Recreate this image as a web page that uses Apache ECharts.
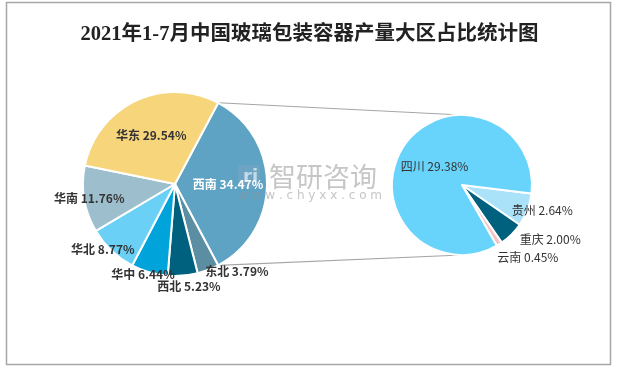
<!DOCTYPE html>
<html>
<head>
<meta charset="utf-8">
<script src="https://cdn.jsdelivr.net/npm/echarts@6/dist/echarts.min.js"></script>
<style>
html,body{margin:0;padding:0;background:#fff;}
#chart{width:619px;height:368px;}
</style>
</head>
<body>
<div id="chart"></div>
<script>
// ---- data ----
const titleText = '2021年1-7月中国玻璃包装容器产量大区占比统计图';
const regionNames = ['西南', '东北', '西北', '华中', '华北', '华南', '华东'];
const regionValues = [34.47, 3.79, 5.23, 6.44, 8.77, 11.76, 29.54];
const provinceNames = ['贵州', '重庆', '云南', '四川'];
const provinceValues = [2.64, 2.00, 0.45, 29.38];

// ---- styles ----
const regionColors = ['#5ea3c3', '#5b8ea2', '#00617f', '#00a3da', '#6ad0f5', '#9dbfcd', '#f7d57b'];
const provinceColors = ['#aae3f9', '#00617f', '#f2c4c2', '#68d4fc'];
const leftCenter = [175, 184], leftR = 92, leftStart = 62;
const rightCenter = [462, 185], rightR = 70, rightStart = -7;
// label radius / offset / colour per slice (style only)
const regionLabelR = [50, 105, 103, 94, 96, 85, 53];
const regionLabelOff = [[0, 0], [23, -13], [5, -3], [-5, -3], [-4, -6], [1, 0], [0, 2]];
const regionLabelColor = ['#ffffff', '#333', '#333', '#333', '#333', '#333', '#333'];
const provinceLabelR = [70, 85, 85, 30];
const provinceLabelOff = [[12, 0], [26, -8], [19, -2], [0, 0]];

const chart = echarts.init(document.getElementById('chart'));
const fontCJK = "'Noto Sans CJK SC', 'Microsoft YaHei', sans-serif";

function labelSeries(names, values, idx, center, r, start, off, color, weight) {
  return {
    type: 'pie', silent: true, animation: false, center: center, radius: [0, r * 2],
    startAngle: start, clockwise: true, avoidLabelOverlap: false, z: 5,
    itemStyle: { color: 'rgba(0,0,0,0)', borderWidth: 0 },
    emphasis: { disabled: true },
    labelLine: { show: false },
    label: {
      show: true, position: 'inside', offset: off, color: color,
      fontSize: 12, fontWeight: weight, fontFamily: fontCJK,
      formatter: p => p.name + ' ' + p.value.toFixed(2) + '%'
    },
    data: names.map((n, i) => ({ name: n, value: values[i], label: { show: i === idx } }))
  };
}

const series = [
  {
    type: 'pie', animation: false, center: leftCenter, radius: [0, leftR], startAngle: leftStart,
    clockwise: true, silent: true, z: 3,
    itemStyle: { borderColor: '#fff', borderWidth: 2 },
    label: { show: false }, labelLine: { show: false },
    data: regionNames.map((n, i) => ({ name: n, value: regionValues[i], itemStyle: { color: regionColors[i] } }))
  },
  {
    type: 'pie', animation: false, center: rightCenter, radius: [0, rightR], startAngle: rightStart,
    clockwise: true, silent: true, z: 3,
    itemStyle: { borderColor: '#fff', borderWidth: 2 },
    label: { show: false }, labelLine: { show: false },
    data: provinceNames.map((n, i) => ({ name: n, value: provinceValues[i], itemStyle: { color: provinceColors[i] } }))
  }
];
regionNames.forEach((n, i) => series.push(labelSeries(regionNames, regionValues, i, leftCenter, regionLabelR[i], leftStart, regionLabelOff[i], regionLabelColor[i], 'bold')));
provinceNames.forEach((n, i) => series.push(labelSeries(provinceNames, provinceValues, i, rightCenter, provinceLabelR[i], rightStart, provinceLabelOff[i], '#333', 'normal')));

// connector lines from the 西南 slice edges to the top/bottom of the detail pie
const total = regionValues.reduce((a, b) => a + b, 0);
const a0 = leftStart * Math.PI / 180;
const a1 = (leftStart - 360 * regionValues[0] / total) * Math.PI / 180;
const p0 = [leftCenter[0] + leftR * Math.cos(a0), leftCenter[1] - leftR * Math.sin(a0)];
const p1 = [leftCenter[0] + leftR * Math.cos(a1), leftCenter[1] - leftR * Math.sin(a1)];

chart.setOption({
  backgroundColor: '#fff',
  title: {
    text: titleText, left: 'center', top: 19,
    textStyle: { fontSize: 20.5, fontWeight: 'bold', color: '#222', fontFamily: "'Liberation Serif', 'Noto Sans CJK SC', serif" }
  },
  graphic: [
    { type: 'rect', shape: { x: 6.5, y: 2.5, width: 604, height: 362 }, style: { fill: 'none', stroke: '#a6a6a6', lineWidth: 1.5 }, z: 0 },
    { type: 'line', shape: { x1: p0[0], y1: p0[1], x2: rightCenter[0], y2: rightCenter[1] - rightR }, style: { stroke: '#a6a6a6', lineWidth: 1.2 }, z: 0 },
    { type: 'line', shape: { x1: p1[0], y1: p1[1], x2: rightCenter[0], y2: rightCenter[1] + rightR }, style: { stroke: '#a6a6a6', lineWidth: 1.2 }, z: 0 },
    { type: 'rect', shape: { x: 238, y: 165, width: 22, height: 23, r: 2 }, style: { fill: 'rgba(140,165,195,0.35)' }, z: 4 },
    { type: 'text', style: { x: 243, y: 177, text: 'ri', fill: 'rgba(255,255,255,0.6)', font: "bold 18px 'DejaVu Sans'", verticalAlign: 'middle' }, z: 4 },
    { type: 'text', style: { x: 269, y: 177, text: '智研咨询', fill: 'rgba(160,160,160,0.6)', font: "27px 'Noto Sans CJK SC'", verticalAlign: 'middle' }, z: 4 },
    { type: 'text', style: { x: 238, y: 196, text: 'w w w . c h y x x . c o m', fill: 'rgba(150,150,150,0.55)', font: "12px 'DejaVu Sans'", verticalAlign: 'middle' }, z: 4 }
  ],
  series: series
});
</script>
</body>
</html>
